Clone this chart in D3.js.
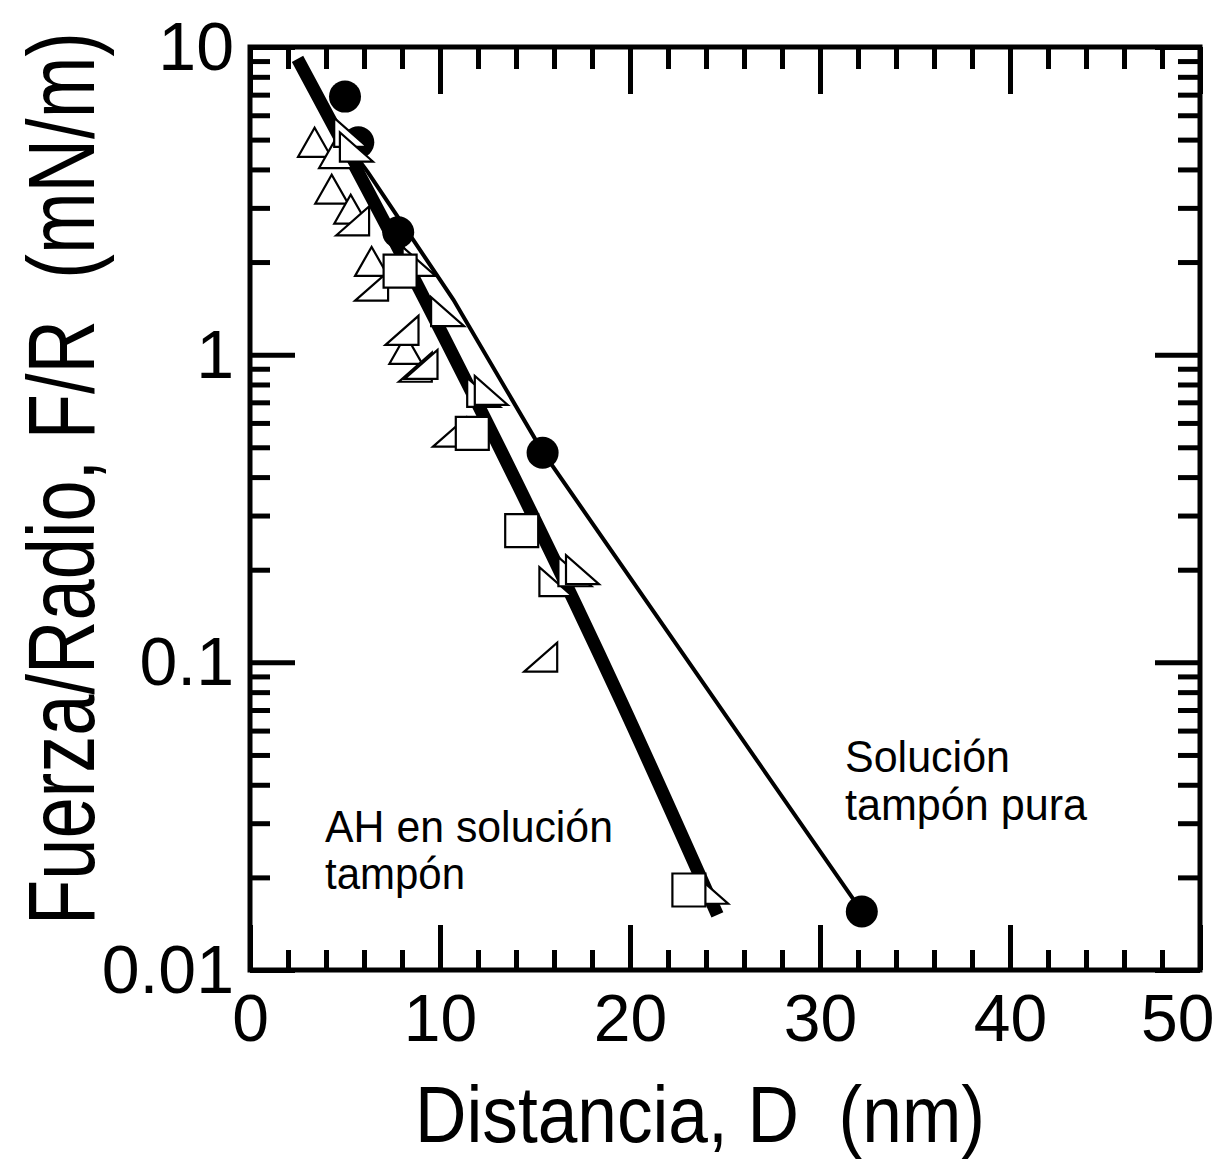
<!DOCTYPE html>
<html>
<head>
<meta charset="utf-8">
<script src="https://cdn.jsdelivr.net/npm/d3@7"></script>
<style>
    body { margin: 0; background: white; }
    text { font-family: "Liberation Sans", Arial, sans-serif; fill: black; white-space: pre; }
</style>
</head>
<body>
<div id="chart"></div>
<script>
// values (distance in nm, F/R in mN/m)
const circleD = [5.0, 5.7, 7.8, 15.4, 32.2]
const circleF = [6.9, 4.9, 2.5, 0.48, 0.0155]

const upTriD = [3.4, 4.5, 4.3, 5.3, 6.4, 8.2]
const upTriF = [4.9, 4.5, 3.45, 2.97, 2.01, 1.04]

const rightTriD = [5.4, 6.4, 8.0, 8.7, 9.0, 10.5, 15.3]
const rightTriF = [2.72, 1.67, 1.20, 0.91, 0.93, 0.56, 0.104]

const leftTriD = [5.3, 5.6, 8.9, 10.4, 12.3, 12.7, 16.1, 17.1, 17.5, 24.3]
const leftTriF = [5.28, 4.73, 2.01, 1.38, 0.754, 0.765, 0.183, 0.197, 0.2, 0.0183]

const squareD = [7.9, 11.7, 14.3, 23.1]
const squareF = [1.87, 0.555, 0.268, 0.0182]

// fitted curves
const ahLineD = [2.5, 9.2, 19.5, 24.6]
const ahLineF = [9.15, 1.51, 0.0755, 0.0151]
const bufferLineD = [3.9, 6.2, 10.7, 15.4, 32.2]
const bufferLineF = [6.1, 3.92, 1.51, 0.484, 0.0155]

const xMajor = [0, 10, 20, 30, 40, 50]
const xMinor = d3.range(0, 51, 2).filter(v => v % 10 !== 0)
const yMajor = [0.01, 0.1, 1, 10]
const yTickLabels = ["0.01", "0.1", "1", "10"]
const yMinor = [0.01, 0.1, 1].flatMap(d => d3.range(2, 10).map(k => +(d * k).toPrecision(2)))

const width = 1227, height = 1161
const mLeft = 250, mRight = 1200, mTop = 47, mBottom = 970

var svg = d3.select("#chart").append("svg")
    .attr("width", width)
    .attr("height", height)

var x = d3.scaleLinear().domain([0, 50]).range([mLeft, mRight])
var y = d3.scaleLog().domain([0.01, 10]).range([mBottom, mTop])

// ticks point inward on all four sides
function tickAxis(axisFn, scale, values, size, tx, ty, fmt) {
    var ax = axisFn(scale).tickValues(values).tickSize(-size)
    ax.tickFormat(fmt || (() => ""))
    var g = svg.append("g").attr("transform", `translate(${tx},${ty})`).call(ax)
    g.select(".domain").remove()
    g.selectAll(".tick line").attr("stroke", "black").attr("stroke-width", 5)
    g.attr("font-family", null).attr("font-size", 66)
    return g
}

tickAxis(d3.axisBottom, x, xMinor, 20, 0, mBottom)
var xg = tickAxis(d3.axisBottom, x, xMajor, 45, 0, mBottom, d => d)
xg.selectAll(".tick text").attr("y", 24).attr("dy", "0.71em")
// last label sits left of its tick so it stays on the page
xg.selectAll(".tick text").filter(d => d === 50).attr("text-anchor", "end").attr("x", 14)
tickAxis(d3.axisTop, x, xMinor, 22, 0, mTop)
tickAxis(d3.axisTop, x, xMajor, 47, 0, mTop)

tickAxis(d3.axisLeft, y, yMinor, 20, mLeft, 0)
var yg = tickAxis(d3.axisLeft, y, yMajor, 45, mLeft, 0, d => yTickLabels[yMajor.indexOf(d)])
yg.attr("font-size", 68)
yg.selectAll(".tick text").attr("x", -16).attr("dy", "0.33em")
tickAxis(d3.axisRight, y, yMinor, 22, mRight, 0)
tickAxis(d3.axisRight, y, yMajor, 45, mRight, 0)

svg.append("rect")
    .attr("x", mLeft).attr("y", mTop)
    .attr("width", mRight - mLeft).attr("height", mBottom - mTop)
    .attr("fill", "none").attr("stroke", "black").attr("stroke-width", 5)

var line = d3.line()
    .x(d => x(d[0]))
    .y(d => y(d[1]))

svg.append("path")
    .attr("d", line.curve(d3.curveMonotoneX)(d3.zip(ahLineD, ahLineF)))
    .attr("fill", "none").attr("stroke", "black").attr("stroke-width", 13)

svg.append("path")
    .attr("d", line.curve(d3.curveLinear)(d3.zip(bufferLineD, bufferLineF)))
    .attr("fill", "none").attr("stroke", "black").attr("stroke-width", 4)

svg.selectAll("circle.buffer")
    .data(d3.zip(circleD, circleF)).enter().append("circle")
    .attr("class", "buffer")
    .attr("cx", d => x(d[0])).attr("cy", d => y(d[1]))
    .attr("r", 16).attr("fill", "black")

// open marker shapes, s = side
const s = 33, h = 29
const shapes = {
    up: `M${-s / 2},${h / 2}L0,${-h / 2}L${s / 2},${h / 2}Z`,
    right: `M${-s / 2},${h / 2}L${s / 2},${-h / 2}L${s / 2},${h / 2}Z`,
    left: `M${-s / 2},${-h / 2}L${-s / 2},${h / 2}L${s / 2},${h / 2}Z`,
    square: `M${-s / 2},${-s / 2}h${s}v${s}h${-s}Z`
}

function markers(cls, ds, fs, shape) {
    svg.selectAll("path." + cls)
        .data(d3.zip(ds, fs)).enter().append("path")
        .attr("class", cls)
        .attr("transform", d => `translate(${x(d[0])},${y(d[1])})`)
        .attr("d", shapes[shape])
        .attr("fill", "white").attr("stroke", "black").attr("stroke-width", 2.2)
}

markers("uptri", upTriD, upTriF, "up")
markers("righttri", rightTriD, rightTriF, "right")
markers("lefttri", leftTriD, leftTriF, "left")
markers("sq", squareD, squareF, "square")

// labels
function label(txt, px, py, size, len) {
    return svg.append("text").attr("x", px).attr("y", py)
        .attr("font-size", size)
        .attr("textLength", len).attr("lengthAdjust", "spacingAndGlyphs")
        .text(txt)
}

label("AH en solución", 325, 842, 44, 288)
label("tampón", 325, 889, 44, 140)
label("Solución", 845, 772, 44, 165)
label("tampón pura", 845, 820, 44, 242)

label("Distancia, D  (nm)", 415, 1142, 80, 570)

svg.append("text")
    .attr("transform", "translate(94,925) rotate(-90)")
    .attr("font-size", 94)
    .attr("textLength", 893).attr("lengthAdjust", "spacingAndGlyphs")
    .text("Fuerza/Radio, F/R  (mN/m)")
</script>
</body>
</html>
